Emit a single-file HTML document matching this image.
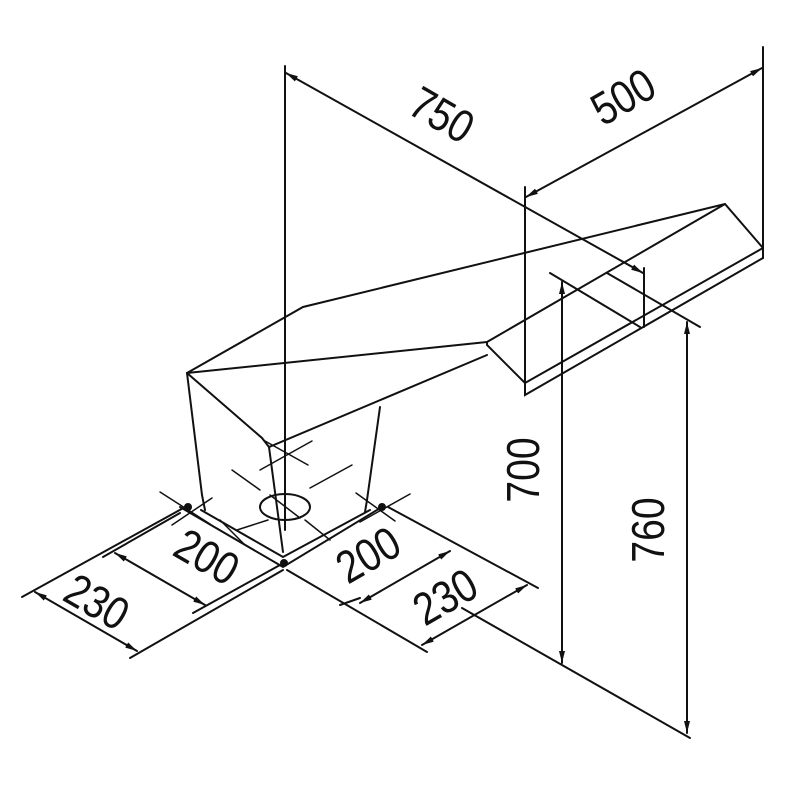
<!DOCTYPE html>
<html><head><meta charset="utf-8"><style>
html,body{margin:0;padding:0;background:#fff;}
svg{display:block;}
text{font-family:"Liberation Sans",sans-serif;font-size:46px;fill:#111;}
</style></head><body>
<svg width="800" height="800" viewBox="0 0 800 800" xmlns="http://www.w3.org/2000/svg">
<defs>
<marker id="a" viewBox="0 0 12 6" refX="12" refY="3" markerWidth="12" markerHeight="6" orient="auto-start-reverse" markerUnits="userSpaceOnUse">
<path d="M0,0 L12,3 L0,6 z" fill="#111"/></marker>
</defs>
<g stroke="#111" stroke-width="2" fill="none" stroke-linecap="round">
<!-- main body -->
<path d="M187,373 L303,307 L725,204 L763,248 L763,258 L525,395 L525,383 L487,345 L487,342 L725,204"/>
<path d="M525,383 L763,248"/>
<path d="M487,342 L187,373"/>
<path d="M187,373 L262,438 L269,447 L487,355"/>
<!-- pillar -->
<path d="M187,373 L202,495"/>
<path d="M380,407 L367,500"/>
<path d="M269,447 L283,552"/>
<!-- base -->
<path d="M180,507 L283,567 L382,507"/>
<path d="M201,510 L283,557 L370,510"/>
<path d="M202,495 L205,510"/>
<path d="M367,500 L365,512"/>
<ellipse cx="285" cy="507" rx="25" ry="13"/>
<!-- center lines -->
<g stroke-width="1.5">
<path d="M232,470 L260,490"/><path d="M310,488 L352,465"/>
<path d="M260,470 L312,441"/><path d="M265,441 L308,465"/>
<path d="M270,495 L300,518"/><path d="M305,520 L330,540"/>
<path d="M160,492 L210,524"/><path d="M172,525 L212,498"/>
<path d="M356,493 L395,521"/><path d="M360,522 L410,494"/>
<path d="M220,520 L245,545"/><path d="M237,530 L268,520"/>
</g>
<circle cx="188" cy="507" r="3" fill="#111"/>
<circle cx="382" cy="507" r="3" fill="#111"/>
<circle cx="284" cy="563" r="3" fill="#111"/>
<!-- vertical center line -->
<path d="M285,66 L285,530"/>
<!-- 750 -->
<path d="M286,73 L643,273" marker-start="url(#a)" marker-end="url(#a)"/>
<path d="M644,268 L644,327"/>
<path d="M550,273 L640,327"/>
<path d="M607,273 L700,327"/>
<!-- 500 -->
<path d="M525,187 L525,393"/>
<path d="M763,47 L763,258"/>
<path d="M526,197 L762,68" marker-start="url(#a)" marker-end="url(#a)"/>
<!-- 700 / 760 -->
<path d="M562,282 L562,663" marker-start="url(#a)" marker-end="url(#a)"/>
<path d="M687,322 L687,733" marker-start="url(#a)" marker-end="url(#a)"/>
<path d="M462,608 L690,738"/>
<!-- left dims -->
<path d="M22,597 L187,506"/>
<path d="M103,557 L180,513"/>
<path d="M130,658 L283,570"/>
<path d="M193,613 L280,565"/>
<path d="M115,553 L205,605" marker-start="url(#a)" marker-end="url(#a)"/>
<path d="M35,592 L137,651" marker-start="url(#a)" marker-end="url(#a)"/>
<!-- right dims -->
<path d="M287,570 L427,652"/>
<path d="M388,507 L538,588"/>
<path d="M360,603 L450,551" marker-start="url(#a)" marker-end="url(#a)"/>
<path d="M422,645 L527,585" marker-start="url(#a)" marker-end="url(#a)"/>
<path d="M340,605 L360,598"/>
</g>
<text transform="translate(440,118) rotate(30) scale(0.85,1)" text-anchor="middle" dominant-baseline="middle">750</text>
<text transform="translate(625,100) rotate(-30) scale(0.85,1)" text-anchor="middle" dominant-baseline="middle">500</text>
<text transform="translate(527,470) rotate(-90) scale(0.85,1)" text-anchor="middle" dominant-baseline="middle">700</text>
<text transform="translate(652,530) rotate(-90) scale(0.85,1)" text-anchor="middle" dominant-baseline="middle">760</text>
<text transform="translate(205,560) rotate(30) scale(0.85,1)" text-anchor="middle" dominant-baseline="middle">200</text>
<text transform="translate(95,605) rotate(30) scale(0.85,1)" text-anchor="middle" dominant-baseline="middle">230</text>
<text transform="translate(370,558) rotate(-30) scale(0.85,1)" text-anchor="middle" dominant-baseline="middle">200</text>
<text transform="translate(447,600) rotate(-30) scale(0.85,1)" text-anchor="middle" dominant-baseline="middle">230</text>
</svg>
</body></html>
